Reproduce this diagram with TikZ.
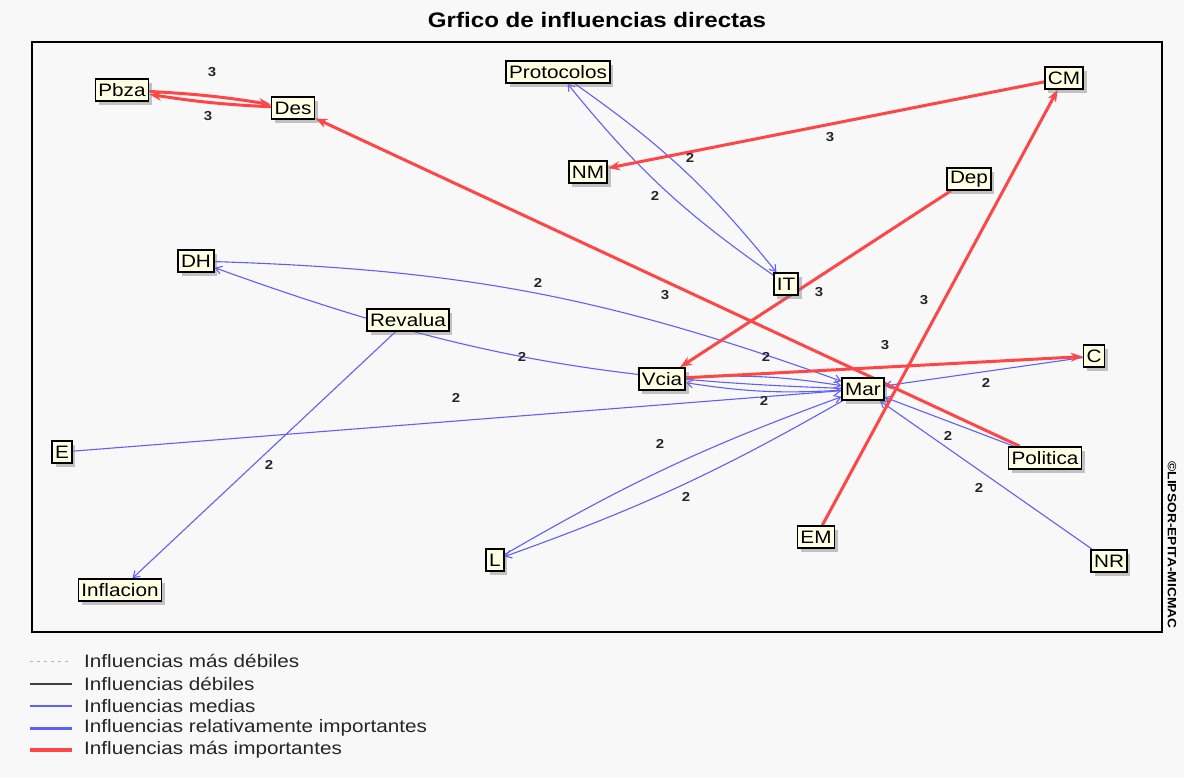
\documentclass[tikz,border=0pt]{standalone}
\usepackage{fontspec}
\newfontfamily\chartfont[FakeStretch=1.15]{Liberation Sans}
\usetikzlibrary{arrows.meta,shadows}
\definecolor{pagebg}{RGB}{248,248,248}
\definecolor{boxfill}{RGB}{255,255,228}
\definecolor{strong}{RGB}{255,70,70}
\definecolor{medium}{RGB}{95,95,255}
\pgfdeclarelayer{bg}
\pgfdeclarelayer{edges}
\pgfsetlayers{bg,edges,main}
\begin{document}
\begin{tikzpicture}[x=1pt,y=-1pt,
  var/.style={draw=black, line width=1.6pt, fill=boxfill, inner xsep=3pt, inner ysep=0pt,
    minimum height=22pt, font=\chartfont\fontsize{18}{20}\selectfont,
    drop shadow={shadow xshift=3.5pt, shadow yshift=-3.5pt, opacity=0.45}},
  strongedge/.style={draw=strong, line width=3pt, -{Stealth[length=12pt,width=9pt]}},
  mededge/.style={draw=medium, line width=1.1pt, -{Straight Barb[length=6pt,width=8pt]}},
  wlabel/.style={font=\chartfont\bfseries\fontsize{13}{14}\selectfont, inner sep=1pt, text=black!85},
  legtext/.style={anchor=west, inner sep=0pt, font=\chartfont\fontsize{18}{20}\selectfont, text=black!85},
]
\begin{pgfonlayer}{bg}
  \fill[pagebg] (0,0) rectangle (1184,777);
  \draw[line width=1.5pt, fill=pagebg] (32,42) rectangle (1162,632);
\end{pgfonlayer}
\useasboundingbox (0,0) rectangle (1184,777);

% title and credit
\node[font=\chartfont\bfseries\fontsize{21}{24}\selectfont] (title) at (597,20) {Grfico de influencias directas};
\node[rotate=-90, font=\chartfont\bfseries\fontsize{12}{13}\selectfont, inner sep=0pt] (credit) at (1172,545) {©LIPSOR-EPITA-MICMAC};

% variables
\node[var] (Pbza) at (122,90) {Pbza};
\node[var] (Des) at (293,108) {Des};
\node[var] (Protocolos) at (558,72) {Protocolos};
\node[var] (CM) at (1064,78) {CM};
\node[var] (NM) at (588,172) {NM};
\node[var] (Dep) at (969,179) {Dep};
\node[var] (DH) at (196,261) {DH};
\node[var] (IT) at (786,284) {IT};
\node[var] (Revalua) at (408,320) {Revalua};
\node[var] (Vcia) at (662,379) {Vcia};
\node[var] (Mar) at (863,389) {Mar};
\node[var] (C) at (1094,356) {C};
\node[var] (E) at (62,452) {E};
\node[var] (Politica) at (1045,458) {Politica};
\node[var] (EM) at (816,537) {EM};
\node[var] (L) at (495,560) {L};
\node[var] (NR) at (1109,561) {NR};
\node[var] (Inflacion) at (120,590) {Inflacion};

% influences
\begin{pgfonlayer}{edges}
  % medium influences
  \draw[mededge] (Protocolos) to[bend left=8] (IT);
  \draw[mededge] (IT) to[bend left=8] (Protocolos);
  \draw[mededge] (DH) to[bend left=9] (Mar);
  \draw[mededge] (Mar) to[bend left=9] (DH);
  \draw[mededge] (Vcia) to[bend left=6] (Mar);
  \draw[mededge] (Mar) to[bend left=6] (Vcia);
  \draw[mededge] (L) to[bend left=5] (Mar);
  \draw[mededge] (Mar) to[bend left=5] (L);
  \draw[mededge] (Revalua) -- (Inflacion);
  \draw[mededge] (E) -- (Mar);
  \draw[mededge] (C) -- (Mar);
  \draw[mededge] (Politica) -- (Mar);
  \draw[mededge] (NR) -- (Mar);
  % strongest influences
  \draw[strongedge] (Pbza) to[bend left=3] (Des);
  \draw[strongedge] (Des) to[bend left=3] (Pbza);
  \draw[strongedge] (Politica) -- (Des);
  \draw[strongedge] (CM) -- (NM);
  \draw[strongedge] (Dep) -- (Vcia);
  \draw[strongedge] (EM) -- (CM);
  \draw[strongedge] (Vcia) -- (C);
\end{pgfonlayer}

% influence weights
\node[wlabel] (w1) at (212,72) {3};
\node[wlabel] (w2) at (208,116) {3};
\node[wlabel] (w3) at (830,137) {3};
\node[wlabel] (w4) at (690,158) {2};
\node[wlabel] (w5) at (655,196) {2};
\node[wlabel] (w6) at (538,283) {2};
\node[wlabel] (w7) at (665,295) {3};
\node[wlabel] (w8) at (819,292) {3};
\node[wlabel] (w9) at (924,300) {3};
\node[wlabel] (w10) at (885,345) {3};
\node[wlabel] (w11) at (766,357) {2};
\node[wlabel] (w12) at (522,357) {2};
\node[wlabel] (w13) at (986,383) {2};
\node[wlabel] (w14) at (456,398) {2};
\node[wlabel] (w15) at (764,401) {2};
\node[wlabel] (w16) at (948,436) {2};
\node[wlabel] (w17) at (660,444) {2};
\node[wlabel] (w18) at (269,465) {2};
\node[wlabel] (w19) at (979,488) {2};
\node[wlabel] (w20) at (686,497) {2};

% legend
\coordinate (k1a) at (30,661); \coordinate (k1b) at (72,661);
\coordinate (k2a) at (30,684); \coordinate (k2b) at (72,684);
\coordinate (k3a) at (30,706); \coordinate (k3b) at (72,706);
\coordinate (k4a) at (30,728); \coordinate (k4b) at (72,728);
\coordinate (k5a) at (30,750); \coordinate (k5b) at (72,750);
\draw[black!30, line width=1pt, dash pattern=on 3pt off 4pt] (k1a) -- (k1b);
\draw[black!75, line width=1.2pt] (k2a) -- (k2b);
\draw[medium, line width=1.6pt] (k3a) -- (k3b);
\draw[medium, line width=3pt] (k4a) -- (k4b);
\draw[strong, line width=3.5pt] (k5a) -- (k5b);
\node[legtext] (t1) at (84,661) {Influencias más débiles};
\node[legtext] (t2) at (84,684) {Influencias débiles};
\node[legtext] (t3) at (84,706) {Influencias medias};
\node[legtext] (t4) at (84,728) {Influencias relativamente importantes};
\node[legtext] (t5) at (84,750) {Influencias más importantes};
\end{tikzpicture}
\end{document}
